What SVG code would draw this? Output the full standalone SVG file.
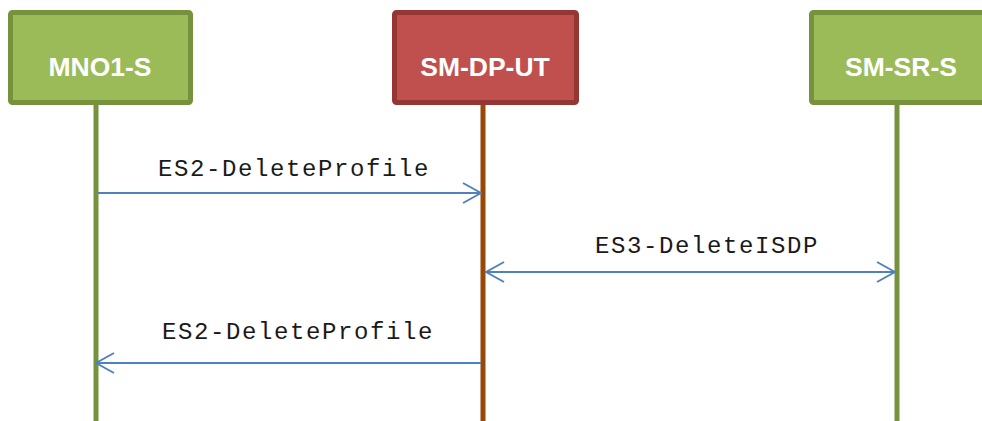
<svg xmlns="http://www.w3.org/2000/svg" width="982" height="421" viewBox="0 0 982 421">
<style>
.g{fill:#9BBB59;stroke:#76923C;stroke-width:5}
.r{fill:#C0504D;stroke:#943634;stroke-width:5}
.lt{font-family:"Liberation Sans",Arial,sans-serif;font-weight:bold;font-size:26.5px;fill:#fff;text-anchor:middle}
.ll{stroke-width:5;fill:none}
.m{stroke:#4F81BD;stroke-width:2;fill:none}
.mt{font-family:"Liberation Mono","Courier New",monospace;font-size:24px;letter-spacing:1.6px;fill:#1a1a1a}
</style>
<defs>
<marker id="ah" viewBox="0 0 20 22" refX="19" refY="11" markerWidth="20" markerHeight="22" markerUnits="userSpaceOnUse" orient="auto-start-reverse">
<path d="M1,1 L19,11 L1,21" fill="none" stroke="#4F81BD" stroke-width="2"/>
</marker>
</defs>
<g id="MNO1-S">
<line class="ll" x1="96" y1="104" x2="96" y2="421" stroke="#76923C"/>
<rect class="g" x="10.5" y="12.5" width="180" height="90" rx="2"/>
<text class="lt" x="100" y="76">MNO1-S</text>
</g>
<g id="SM-DP-UT">
<line class="ll" x1="483" y1="104" x2="483" y2="421" stroke="#984807"/>
<rect class="r" x="394.5" y="12.5" width="182" height="90" rx="2"/>
<text class="lt" x="485" y="76">SM-DP-UT</text>
</g>
<g id="SM-SR-S">
<line class="ll" x1="897" y1="104" x2="897" y2="421" stroke="#76923C"/>
<rect class="g" x="811.5" y="12.5" width="180" height="90" rx="2"/>
<text class="lt" x="901" y="76">SM-SR-S</text>
</g>
<g id="connectors">
<line class="m" x1="98" y1="193" x2="481" y2="193" marker-end="url(#ah)"/>
<text class="mt" x="158" y="176">ES2-DeleteProfile</text>
<line class="m" x1="486" y1="272" x2="895" y2="272" marker-start="url(#ah)" marker-end="url(#ah)"/>
<text class="mt" x="595" y="253">ES3-DeleteISDP</text>
<line class="m" x1="481" y1="363" x2="96" y2="363" marker-end="url(#ah)"/>
<text class="mt" x="162" y="339">ES2-DeleteProfile</text>
</g>
</svg>
